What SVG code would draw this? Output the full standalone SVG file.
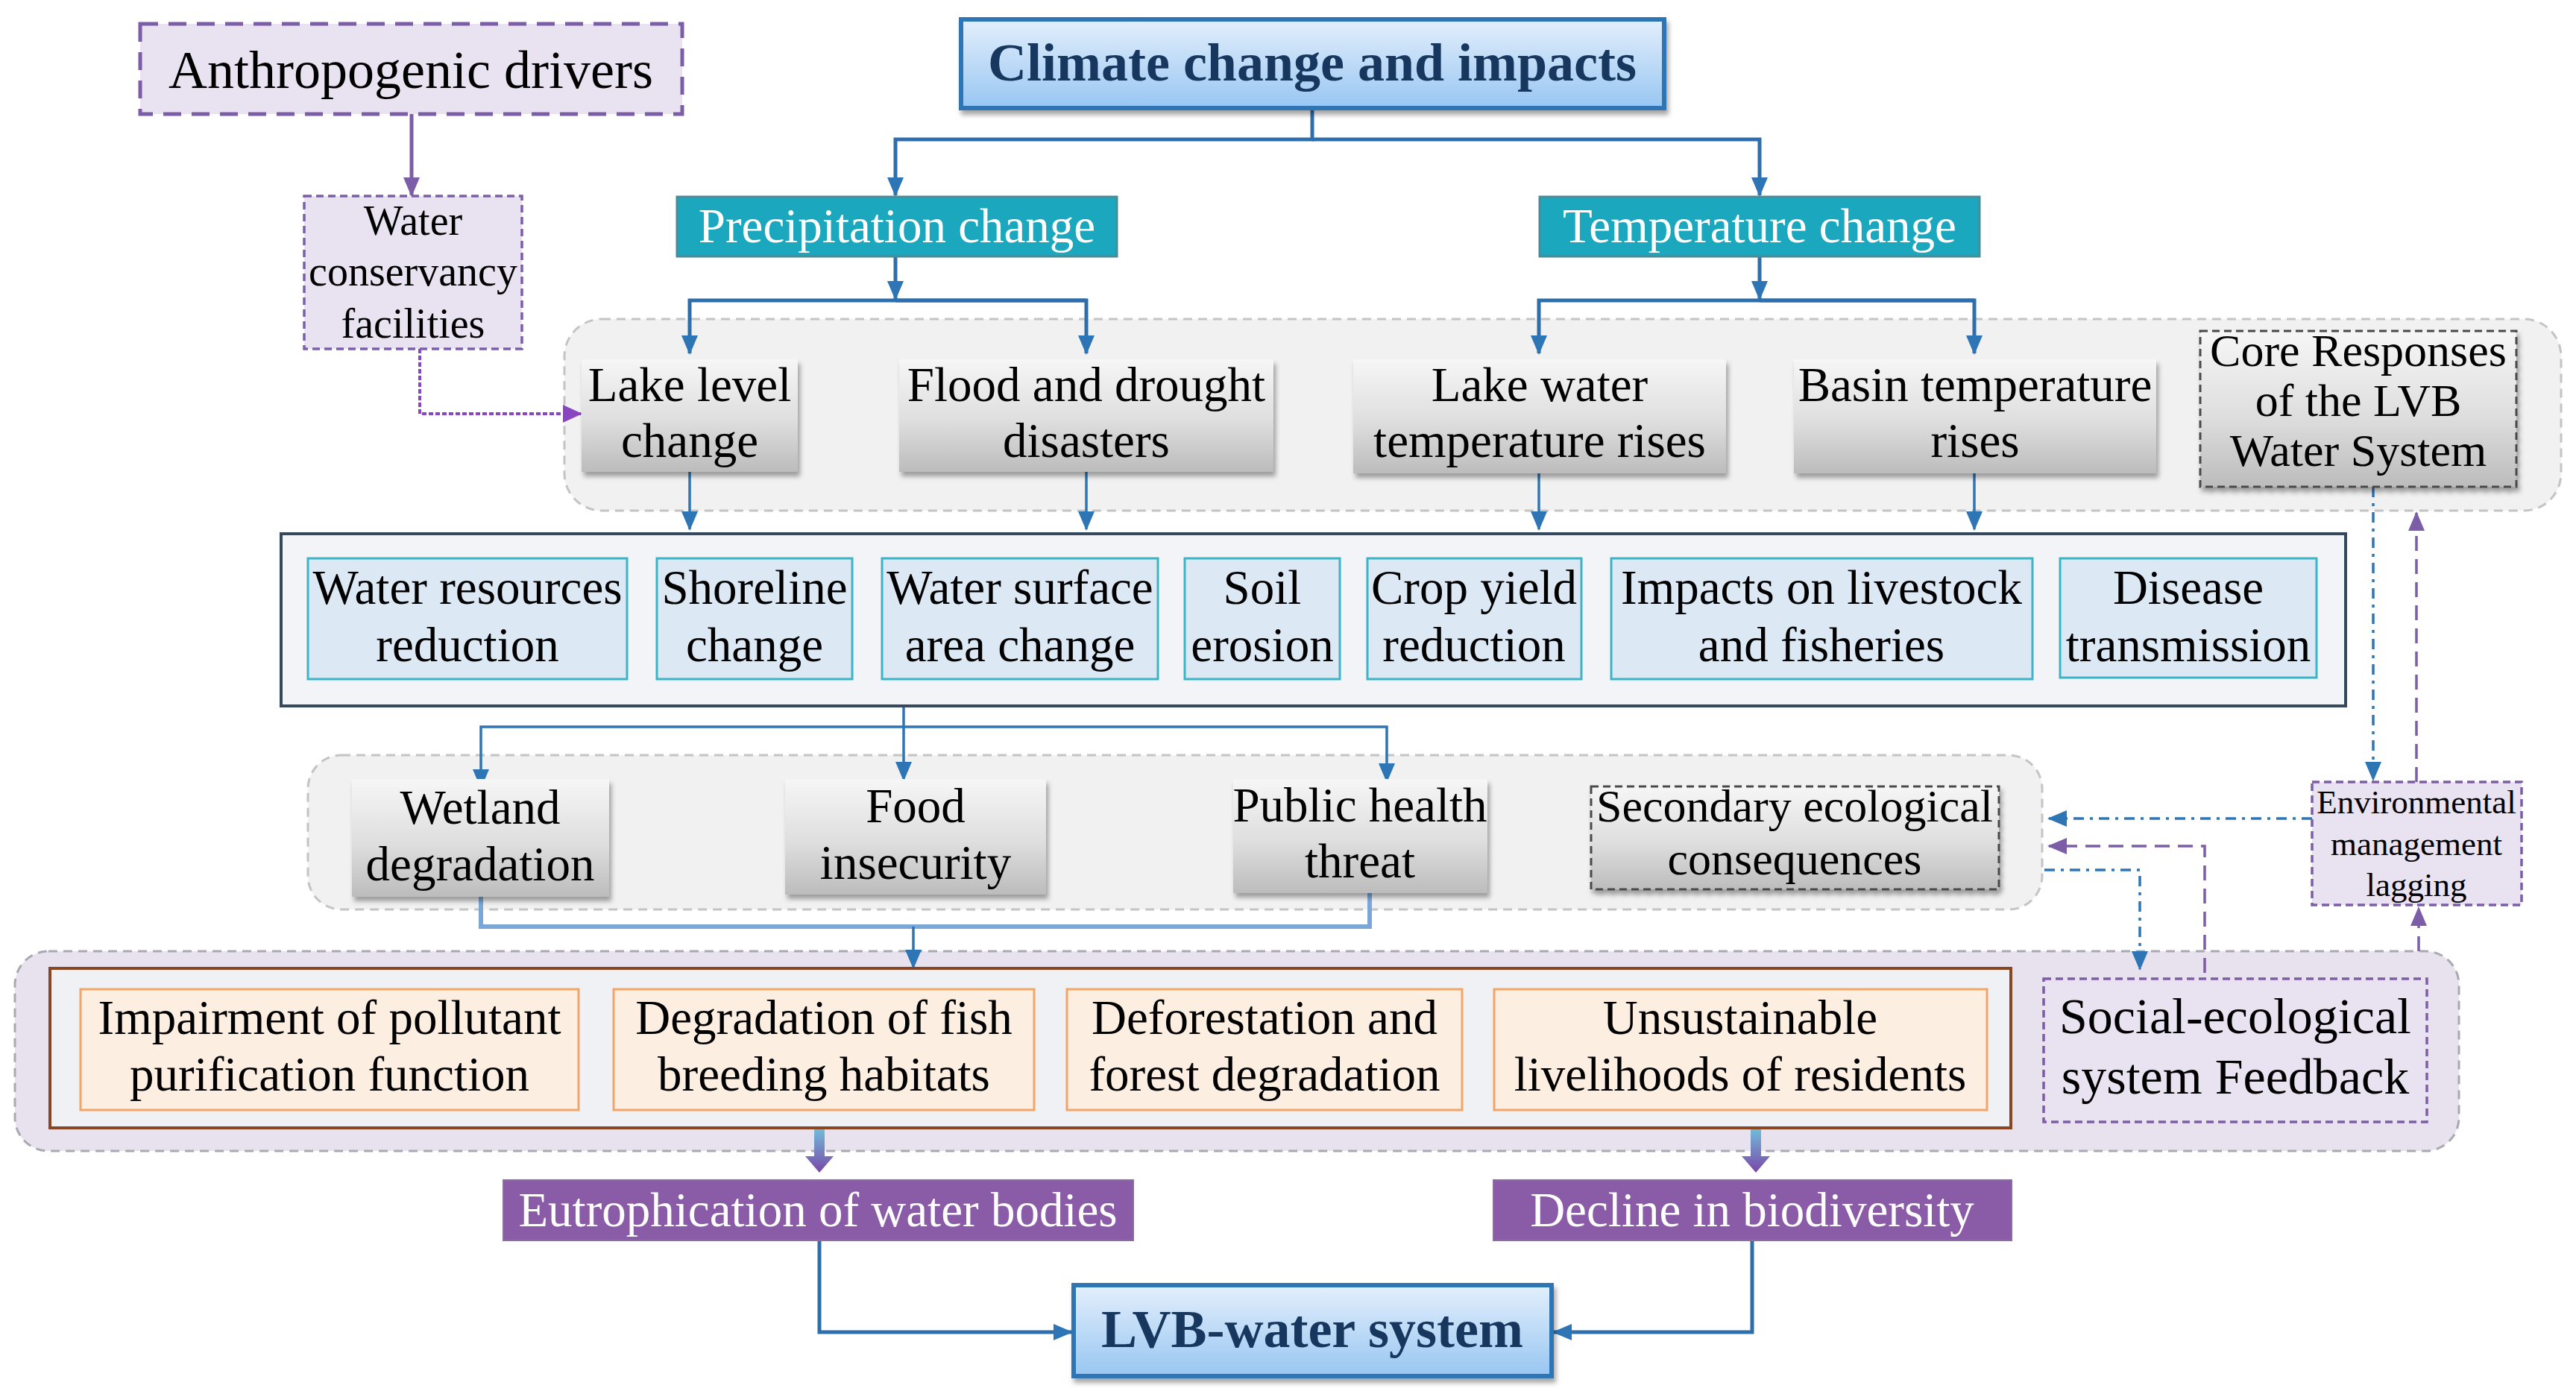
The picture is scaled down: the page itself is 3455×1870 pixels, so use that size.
<svg xmlns="http://www.w3.org/2000/svg" width="3455" height="1870" viewBox="0 0 3455 1870">
<defs>
<style>
text{font-family:"Liberation Serif","Times New Roman",serif;text-anchor:middle;fill:#000}
.t65{font-size:65px}
.w{fill:#fff}
.bold{font-weight:bold;fill:#17375e;font-size:72px}
.band{fill:#f1f1f1;stroke:#c4c4c4;stroke-width:3;stroke-dasharray:12 8}
.grey{fill:url(#gGrey);filter:url(#sh)}
.sub{fill:#dce9f5;stroke:#3ab4c6;stroke-width:3}
.org{fill:#fdeee2;stroke:#f2a566;stroke-width:3}
.pur{fill:#e9e2f0;stroke:#7b5ea7;stroke-width:3.5;stroke-dasharray:10 6}
.teal{fill:#1ba8bf;stroke:#4a8b97;stroke-width:3}
.viol{fill:#8a5ba6;stroke:#857396;stroke-width:2}
.blue{fill:url(#gBlue);stroke:#2e75b6;stroke-width:6;filter:url(#sh)}
.c{fill:none;stroke:#2e6fab;stroke-width:5}
.c3{fill:none;stroke:#2e75b6;stroke-width:3.5}
.cl{fill:none;stroke:#7ba7d8;stroke-width:6}
.pd{fill:none;stroke:#7b5ea7;stroke-width:3.5;stroke-dasharray:20 11}
.bd{fill:none;stroke:#2e75b6;stroke-width:3.5;stroke-dasharray:14 8 4 8}
</style>
<linearGradient id="gGrey" x1="0" y1="0" x2="0" y2="1">
<stop offset="0" stop-color="#f6f6f6"/><stop offset="0.55" stop-color="#dedede"/><stop offset="1" stop-color="#bcbcbc"/>
</linearGradient>
<linearGradient id="gBlue" x1="0" y1="0" x2="0" y2="1">
<stop offset="0" stop-color="#e3effc"/><stop offset="1" stop-color="#98c6f2"/>
</linearGradient>
<linearGradient id="gArr" x1="0" y1="0" x2="0" y2="1">
<stop offset="0" stop-color="#6fd3e3"/><stop offset="1" stop-color="#7a47a8"/>
</linearGradient>
<filter id="sh" x="-5%" y="-10%" width="115%" height="135%">
<feDropShadow dx="3" dy="6" stdDeviation="3" flood-color="#000" flood-opacity="0.35"/>
</filter>
<marker id="ab" markerUnits="userSpaceOnUse" markerWidth="26" markerHeight="22" refX="24" refY="11" orient="auto"><path d="M0,0 L26,11 L0,22 z" fill="#2e75b6"/></marker>
<marker id="ap" markerUnits="userSpaceOnUse" markerWidth="26" markerHeight="22" refX="24" refY="11" orient="auto"><path d="M0,0 L26,11 L0,22 z" fill="#7b5ea7"/></marker>
<marker id="ap2" markerUnits="userSpaceOnUse" markerWidth="26" markerHeight="24" refX="24" refY="12" orient="auto"><path d="M0,0 L26,12 L0,24 z" fill="#8a45c0"/></marker>
</defs>

<!-- background bands -->
<g id="band1"><rect class="band" x="757" y="428" width="2678" height="257" rx="50"/></g>
<g id="band3"><rect class="band" x="413" y="1013" width="2326" height="207" rx="45"/></g>
<g id="band4"><rect x="20" y="1276" width="3278" height="268" rx="45" fill="#e7e2ee" stroke="#a9a9b3" stroke-width="3" stroke-dasharray="12 8"/></g>

<!-- connectors -->
<g id="connectors">
<path d="M552 153 V262" fill="none" stroke="#7b5ea7" stroke-width="5" marker-end="url(#ap)"/>
<path d="M563 468 V555 H779" fill="none" stroke="#8a45c0" stroke-width="4" stroke-dasharray="6 3" marker-end="url(#ap2)"/>
<path class="c" d="M1760 145 V187 H1201 V262" marker-end="url(#ab)"/>
<path class="c" d="M1760 187 H2360 V262" marker-end="url(#ab)"/>
<path class="c" d="M1201 344 V401" marker-end="url(#ab)"/>
<path class="c" d="M1457 403 H925 V474" marker-end="url(#ab)"/>
<path class="c" d="M1201 403 H1457 V474" marker-end="url(#ab)"/>
<path class="c" d="M2360 344 V401" marker-end="url(#ab)"/>
<path class="c" d="M2648 403 H2064 V474" marker-end="url(#ab)"/>
<path class="c" d="M2360 403 H2648 V474" marker-end="url(#ab)"/>
<path class="c3" d="M925 633 V710" marker-end="url(#ab)"/>
<path class="c3" d="M1457 633 V710" marker-end="url(#ab)"/>
<path class="c3" d="M2064 635 V710" marker-end="url(#ab)"/>
<path class="c3" d="M2648 635 V710" marker-end="url(#ab)"/>
<path class="c3" d="M1212 947 V1046" marker-end="url(#ab)"/>
<path class="c3" d="M1212 975 H645 V1056" marker-end="url(#ab)"/>
<path class="c3" d="M1212 975 H1860 V1048" marker-end="url(#ab)"/>
<path class="cl" d="M645 1203 V1243 H1837 V1198"/>
<path class="c3" d="M1225 1243 V1298" marker-end="url(#ab)"/>
<path class="bd" d="M3183 653 V1046" marker-end="url(#ab)"/>
<path class="pd" d="M3241 1049 V688" marker-end="url(#ap)"/>
<path class="bd" d="M3101 1098 H2748" marker-end="url(#ab)"/>
<path class="pd" d="M2957 1305 V1135 H2748" marker-end="url(#ap)"/>
<path class="bd" d="M2742 1167 H2870 V1300" marker-end="url(#ab)"/>
<path class="pd" d="M3244 1276 V1218" marker-end="url(#ap)"/>
<path d="M1092 1503 h14 v48 h12 l-19 22 l-19 -22 h12 z" fill="url(#gArr)"/>
<path d="M2348 1503 h14 v48 h12 l-19 22 l-19 -22 h12 z" fill="url(#gArr)"/>
<path class="c" d="M1099 1664 V1787 H1437" marker-end="url(#ab)"/>
<path class="c" d="M2350 1664 V1787 H2084" marker-end="url(#ab)"/>
</g>

<!-- top -->
<g id="anthropogenic"><rect x="188" y="32" width="727" height="121" fill="#e9e2f0" stroke="#7b5ea7" stroke-width="5" stroke-dasharray="24 14"/><text x="551" y="118" style="font-size:72px">Anthropogenic drivers</text></g>
<g id="water-conservancy"><rect class="pur" x="408" y="263" width="292" height="205"/><text x="554" y="315" style="font-size:56px">Water</text><text x="554" y="383" style="font-size:56px">conservancy</text><text x="554" y="453" style="font-size:56px">facilities</text></g>
<g id="climate"><rect class="blue" x="1289" y="26" width="943" height="119"/><text class="bold" x="1760" y="108">Climate change and impacts</text></g>
<g id="precipitation"><rect class="teal" x="908" y="264" width="590" height="80"/><text class="t65 w" x="1203" y="325">Precipitation change</text></g>
<g id="temperature"><rect class="teal" x="2065" y="264" width="590" height="80"/><text class="t65 w" x="2360" y="325">Temperature change</text></g>

<!-- band1 nodes -->
<g id="lake-level"><rect class="grey" x="780" y="482" width="290" height="151"/><text class="t65" x="925" y="538">Lake level</text><text class="t65" x="925" y="613">change</text></g>
<g id="flood"><rect class="grey" x="1206" y="482" width="502" height="151"/><text class="t65" x="1457" y="538">Flood and drought</text><text class="t65" x="1457" y="613">disasters</text></g>
<g id="lake-water-temp"><rect class="grey" x="1815" y="482" width="500" height="153"/><text class="t65" x="2065" y="538">Lake water</text><text class="t65" x="2065" y="613">temperature rises</text></g>
<g id="basin-temp"><rect class="grey" x="2406" y="482" width="486" height="153"/><text class="t65" x="2649" y="538">Basin temperature</text><text class="t65" x="2649" y="613">rises</text></g>
<g id="core"><rect x="2951" y="444" width="424" height="209" fill="url(#gGrey)" stroke="#4a4a4a" stroke-width="3" stroke-dasharray="10 6" filter="url(#sh)"/><text x="3163" y="491" style="font-size:62px">Core Responses</text><text x="3163" y="558" style="font-size:62px">of the LVB</text><text x="3163" y="625" style="font-size:62px">Water System</text></g>

<!-- band2 -->
<g id="band2"><rect x="377" y="716" width="2769" height="231" fill="#f2f4f7" stroke="#34495e" stroke-width="4"/></g>
<g id="water-resources"><rect class="sub" x="413" y="749" width="428" height="162"/><text class="t65" x="627" y="810">Water resources</text><text class="t65" x="627" y="887">reduction</text></g>
<g id="shoreline"><rect class="sub" x="881" y="749" width="262" height="162"/><text class="t65" x="1012" y="810">Shoreline</text><text class="t65" x="1012" y="887">change</text></g>
<g id="water-surface"><rect class="sub" x="1183" y="749" width="370" height="162"/><text class="t65" x="1368" y="810">Water surface</text><text class="t65" x="1368" y="887">area change</text></g>
<g id="soil"><rect class="sub" x="1589" y="749" width="208" height="162"/><text class="t65" x="1693" y="810">Soil</text><text class="t65" x="1693" y="887">erosion</text></g>
<g id="crop"><rect class="sub" x="1834" y="749" width="287" height="162"/><text class="t65" x="1977" y="810">Crop yield</text><text class="t65" x="1977" y="887">reduction</text></g>
<g id="livestock"><rect class="sub" x="2161" y="749" width="565" height="162"/><text class="t65" x="2443" y="810">Impacts on livestock</text><text class="t65" x="2443" y="887">and fisheries</text></g>
<g id="disease"><rect class="sub" x="2763" y="749" width="344" height="160"/><text class="t65" x="2935" y="810">Disease</text><text class="t65" x="2935" y="887">transmission</text></g>

<!-- band3 nodes -->
<g id="wetland"><rect class="grey" x="472" y="1045" width="345" height="158"/><text class="t65" x="644" y="1105">Wetland</text><text class="t65" x="644" y="1181">degradation</text></g>
<g id="food"><rect class="grey" x="1053" y="1045" width="350" height="155"/><text class="t65" x="1228" y="1103">Food</text><text class="t65" x="1228" y="1179">insecurity</text></g>
<g id="public-health"><rect class="grey" x="1654" y="1045" width="341" height="153"/><text class="t65" x="1824" y="1102">Public health</text><text class="t65" x="1824" y="1177">threat</text></g>
<g id="secondary"><rect x="2134" y="1055" width="547" height="138" fill="url(#gGrey)" stroke="#4a4a4a" stroke-width="3" stroke-dasharray="10 6" filter="url(#sh)"/><text x="2407" y="1102" style="font-size:62px">Secondary ecological</text><text x="2407" y="1173" style="font-size:62px">consequences</text></g>
<g id="env-mgmt"><rect class="pur" x="3101" y="1049" width="281" height="165"/><text x="3241" y="1091" style="font-size:45px">Environmental</text><text x="3241" y="1147" style="font-size:45px">management</text><text x="3241" y="1202" style="font-size:45px">lagging</text></g>

<!-- band4 nodes -->
<g id="inner-box"><rect x="67" y="1299" width="2630" height="214" fill="#eff1f4" stroke="#8a4523" stroke-width="4"/></g>
<g id="impairment"><rect class="org" x="108" y="1327" width="668" height="162"/><text class="t65" x="442" y="1387">Impairment of pollutant</text><text class="t65" x="442" y="1463">purification function</text></g>
<g id="fish"><rect class="org" x="823" y="1327" width="564" height="162"/><text class="t65" x="1105" y="1387">Degradation of fish</text><text class="t65" x="1105" y="1463">breeding habitats</text></g>
<g id="deforestation"><rect class="org" x="1431" y="1327" width="530" height="162"/><text class="t65" x="1696" y="1387">Deforestation and</text><text class="t65" x="1696" y="1463">forest degradation</text></g>
<g id="livelihoods"><rect class="org" x="2004" y="1327" width="661" height="162"/><text class="t65" x="2334" y="1387">Unsustainable</text><text class="t65" x="2334" y="1463">livelihoods of residents</text></g>
<g id="social"><rect class="pur" x="2741" y="1313" width="514" height="192"/><text x="2998" y="1386" style="font-size:68px">Social-ecological</text><text x="2998" y="1467" style="font-size:68px">system Feedback</text></g>

<!-- bottom -->
<g id="eutrophication"><rect class="viol" x="675" y="1583" width="845" height="81"/><text class="t65 w" x="1097" y="1645">Eutrophication of water bodies</text></g>
<g id="biodiversity"><rect class="viol" x="2003" y="1583" width="695" height="81"/><text class="t65 w" x="2350" y="1645">Decline in biodiversity</text></g>
<g id="lvb"><rect class="blue" x="1440" y="1724" width="641" height="122"/><text class="bold" x="1760" y="1807">LVB-water system</text></g>
</svg>
